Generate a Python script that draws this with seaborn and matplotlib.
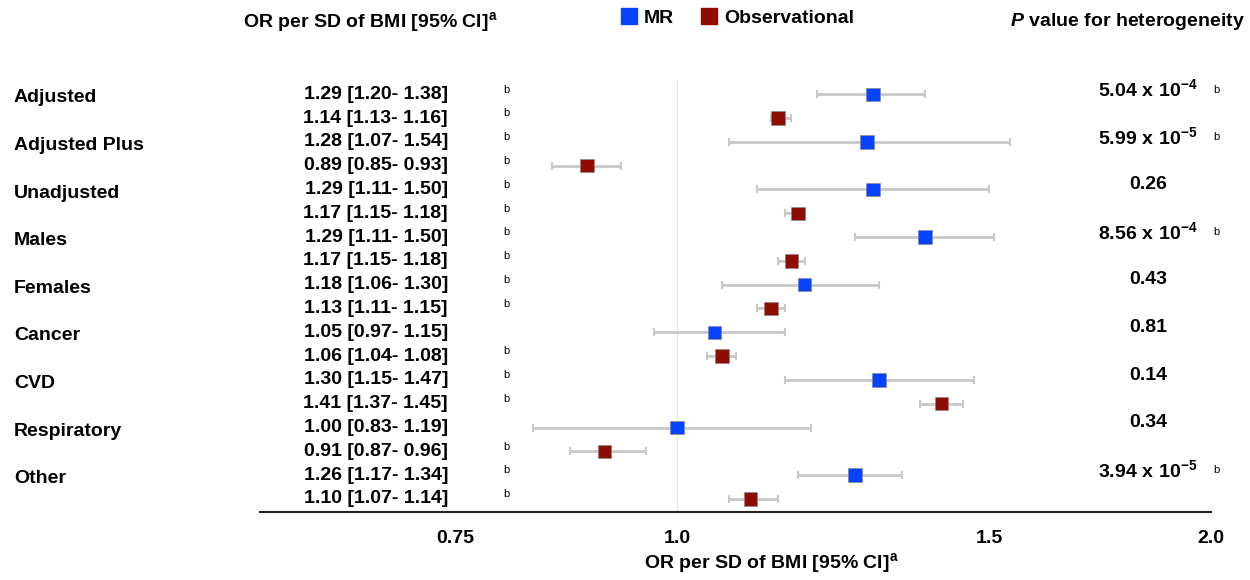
import matplotlib
matplotlib.use("Agg")
import matplotlib.pyplot as plt
import matplotlib.transforms as mtransforms
from matplotlib.lines import Line2D
import pandas as pd
import seaborn as sns

groups = ["Adjusted", "Adjusted Plus", "Unadjusted", "Males", "Females",
          "Cancer", "CVD", "Respiratory", "Other"]

# estimates / 95% CI as drawn in the plot
mr_or = [1.29, 1.28, 1.29, 1.38, 1.18, 1.05, 1.30, 1.00, 1.26]
mr_lo = [1.20, 1.07, 1.11, 1.26, 1.06, 0.97, 1.15, 0.83, 1.17]
mr_hi = [1.38, 1.54, 1.50, 1.51, 1.30, 1.15, 1.47, 1.19, 1.34]
obs_or = [1.14, 0.89, 1.17, 1.16, 1.13, 1.06, 1.41, 0.91, 1.10]
obs_lo = [1.13, 0.85, 1.15, 1.14, 1.11, 1.04, 1.37, 0.87, 1.07]
obs_hi = [1.16, 0.93, 1.18, 1.18, 1.15, 1.08, 1.45, 0.96, 1.14]

# printed text (the Males row repeats the Unadjusted numbers in the source)
mr_text = ["1.29 [1.20- 1.38]", "1.28 [1.07- 1.54]", "1.29 [1.11- 1.50]",
           "1.29 [1.11- 1.50]", "1.18 [1.06- 1.30]", "1.05 [0.97- 1.15]",
           "1.30 [1.15- 1.47]", "1.00 [0.83- 1.19]", "1.26 [1.17- 1.34]"]
obs_text = ["1.14 [1.13- 1.16]", "0.89 [0.85- 0.93]", "1.17 [1.15- 1.18]",
            "1.17 [1.15- 1.18]", "1.13 [1.11- 1.15]", "1.06 [1.04- 1.08]",
            "1.41 [1.37- 1.45]", "0.91 [0.87- 0.96]", "1.10 [1.07- 1.14]"]
mr_flag = [True, True, True, True, True, False, True, False, True]
obs_flag = [True] * 9

p_het = [r"$\mathbf{5.04\ x\ 10^{-4}}$", r"$\mathbf{5.99\ x\ 10^{-5}}$", "0.26",
         r"$\mathbf{8.56\ x\ 10^{-4}}$", "0.43", "0.81", "0.14", "0.34",
         r"$\mathbf{3.94\ x\ 10^{-5}}$"]
p_flag = [True, True, False, True, False, False, False, False, True]

xticks = [0.75, 1.0, 1.5, 2.0]
xtick_labels = ["0.75", "1.0", "1.5", "2.0"]

BLUE = "#0543FF"
RED = "#8E0C02"

sns.set_theme(style="white")
plt.rcParams["font.family"] = ["Liberation Sans", "DejaVu Sans"]
plt.rcParams["font.weight"] = "bold"
plt.rcParams["text.color"] = "black"
plt.rcParams["xtick.color"] = "black"
plt.rcParams["axes.labelcolor"] = "black"
plt.rcParams["mathtext.fontset"] = "custom"
plt.rcParams["mathtext.rm"] = "Liberation Sans:bold"
plt.rcParams["mathtext.bf"] = "Liberation Sans:bold"
plt.rcParams["mathtext.it"] = "Liberation Sans:italic:bold"

rows = []
for i, g in enumerate(groups):
    rows.append(dict(group=g, source="MR", ypos=2 * i,
                     est=mr_or[i], lo=mr_lo[i], hi=mr_hi[i]))
    rows.append(dict(group=g, source="Observational", ypos=2 * i + 1,
                     est=obs_or[i], lo=obs_lo[i], hi=obs_hi[i]))
df = pd.DataFrame(rows)

W, H = 1250, 580
fig = plt.figure(figsize=(W / 100, H / 100), dpi=100)
ax = fig.add_axes([260 / W, 1 - 512 / H, (1211 - 260) / W, (512 - 80) / H])

ax.axvline(1.0, color="#E6E6E6", lw=1, zorder=0)
ax.errorbar(df["est"], df["ypos"],
            xerr=[df["est"] - df["lo"], df["hi"] - df["est"]],
            fmt="none", ecolor="#C8C8C8", elinewidth=2, capsize=3,
            capthick=1.5, zorder=1)
sns.scatterplot(data=df, x="est", y="ypos", hue="source",
                palette={"MR": BLUE, "Observational": RED}, marker="s",
                s=95, edgecolor="#8a8a8a", linewidth=0.5, legend=False,
                zorder=3, ax=ax)

ax.set_xscale("log")
ax.set_xlim(0.582, 2.0)
ax.set_ylim(17.55, -0.6)
ax.set_xticks(xticks)
ax.set_xticklabels(xtick_labels)
ax.minorticks_off()
ax.set_yticks([])
ax.set_xlabel("")
ax.set_ylabel("")
for s in ["top", "left", "right"]:
    ax.spines[s].set_visible(False)
ax.spines["bottom"].set_linewidth(1.5)
ax.spines["bottom"].set_color("#222222")
ax.tick_params(axis="x", direction="out", length=6, width=1.5,
               color="#222222", labelcolor="black", pad=7, labelsize=14)
for lab in ax.get_xticklabels():
    lab.set_fontweight("bold")

trans = mtransforms.blended_transform_factory(fig.transFigure, ax.transData)

for i, g in enumerate(groups):
    y_mr, y_obs = 2 * i, 2 * i + 1
    ax.text(14 / W, y_mr + 0.15, g, transform=trans, ha="left", va="center",
            fontsize=14, fontweight="bold")
    ax.text(448 / W, y_mr, mr_text[i], transform=trans, ha="right",
            va="center", fontsize=14, fontweight="bold")
    ax.text(448 / W, y_obs, obs_text[i], transform=trans, ha="right",
            va="center", fontsize=14, fontweight="bold")
    if mr_flag[i]:
        ax.text(503 / W, y_mr - 0.2, "b", transform=trans, ha="left",
                va="center", fontsize=8, fontweight="normal")
    if obs_flag[i]:
        ax.text(503 / W, y_obs - 0.2, "b", transform=trans, ha="left",
                va="center", fontsize=8, fontweight="normal")
    ax.text(1148 / W, y_mr - 0.2, p_het[i], transform=trans, ha="center",
            va="center", fontsize=14, fontweight="bold")
    if p_flag[i]:
        ax.text(1213 / W, y_mr - 0.2, "b", transform=trans, ha="left",
                va="center", fontsize=8, fontweight="normal")

# headers
fig.text(370 / W, 1 - 22 / H, r"OR per SD of BMI [95% CI]$^\mathrm{a}$",
         ha="center", va="center", fontsize=14, fontweight="bold")
fig.text(1010 / W, 1 - 22 / H, r"$\mathit{P}$ value for heterogeneity",
         ha="left", va="center", fontsize=14, fontweight="bold")
fig.text(771 / W, 1 - 563 / H, r"OR per SD of BMI [95% CI]$^\mathrm{a}$",
         ha="center", va="center", fontsize=14, fontweight="bold")

handles = [Line2D([], [], marker="s", ls="none", color=BLUE, markersize=11),
           Line2D([], [], marker="s", ls="none", color=RED, markersize=11)]
fig.legend(handles, ["MR", "Observational"], loc="center",
           bbox_to_anchor=(737 / W, 1 - 18 / H), ncol=2, frameon=False,
           prop={"weight": "bold", "size": 14}, handletextpad=0.3,
           columnspacing=1.4, handlelength=0.9)

fig.savefig("out.png", dpi=100)
